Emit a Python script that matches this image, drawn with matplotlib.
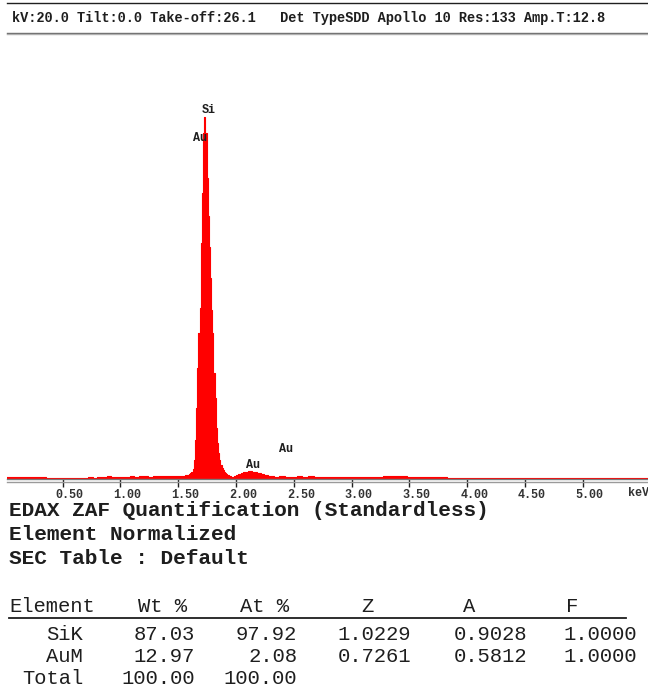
from matplotlib import pyplot as plt
from matplotlib.lines import Line2D
from matplotlib.transforms import ScaledTranslation

# ---------------- spectrum (counts per channel, arbitrary units) ----------------
energy_low = [0.02, 0.06, 0.10, 0.14, 0.18, 0.22, 0.26, 0.30, 0.34, 0.38,
              0.42, 0.46, 0.50, 0.54, 0.58, 0.62, 0.66, 0.70, 0.74, 0.78,
              0.82, 0.86, 0.90, 0.94, 0.98, 1.02, 1.06, 1.10, 1.14, 1.18,
              1.22, 1.26, 1.30, 1.34, 1.38, 1.42, 1.46, 1.50, 1.54, 1.58]
counts_low = [2, 2, 2, 2, 2, 2, 2, 2.5, 2, 1.5,
              1.5, 1.5, 1.5, 1.5, 1.5, 1.5, 1.5, 1.5, 2, 1.5,
              2, 2.5, 3, 2, 2.5, 2.5, 2.5, 3, 2.5, 3,
              3, 2.5, 3, 3.5, 3, 3, 3.5, 3, 3.5, 4]

energy_si = [1.60, 1.61, 1.62, 1.63, 1.64, 1.65, 1.66, 1.67, 1.68, 1.69,
             1.70, 1.71, 1.72, 1.73, 1.74, 1.75, 1.76, 1.77, 1.78, 1.79,
             1.80, 1.81, 1.82, 1.83, 1.84, 1.85, 1.86, 1.87, 1.88, 1.89,
             1.90, 1.91, 1.92, 1.93, 1.95, 1.97, 1.99]
counts_si = [5, 6, 7, 10, 19, 39, 71, 111, 146, 171,
             236, 286, 346, 362, 346, 301, 263, 232, 201, 169,
             146, 106, 81, 51, 36, 26, 19, 14, 11, 9,
             7, 6, 5, 4, 3, 2.5, 3]

energy_au = [2.01, 2.03, 2.05, 2.07, 2.09, 2.11, 2.13, 2.15, 2.17, 2.19,
             2.21, 2.23, 2.25, 2.27, 2.29, 2.31]
counts_au = [4, 5, 6, 7, 7.5, 8, 8, 7.5, 7, 6.5,
             6, 5, 4.5, 4, 3.5, 3]

energy_high = [2.35, 2.40, 2.45, 2.50, 2.55, 2.60, 2.65, 2.70, 2.75, 2.80,
               2.85, 2.90, 2.95, 3.00, 3.05, 3.10, 3.15, 3.20, 3.25, 3.30,
               3.35, 3.40, 3.45, 3.50, 3.55, 3.60, 3.65, 3.70, 3.75, 3.80,
               3.85, 3.90, 3.95, 4.00, 4.10, 4.20, 4.30, 4.40, 4.50, 4.60,
               4.70, 4.80, 4.90, 5.00, 5.10, 5.20, 5.30, 5.40, 5.50, 5.56]
counts_high = [2.5, 3, 2.5, 2.5, 3, 2.5, 3, 2.5, 2.5, 2.5,
               2.5, 2.5, 2, 2, 2, 2, 2, 2, 2.5, 3,
               3, 3, 3, 2.5, 2.5, 2, 2, 2, 2, 2,
               1.5, 1.5, 1.5, 1.5, 1.5, 1.5, 1.5, 1.5, 1.5, 1.5,
               1.5, 1.5, 1.5, 1.5, 1.5, 1.5, 1.5, 1.5, 1.5, 1.5]

energy = energy_low + energy_si + energy_au + energy_high
counts = counts_low + counts_si + counts_au + counts_high

# line markers: label, energy (keV), label height
peak_names = ['Si', 'Au', 'Au', 'Au']
peak_energy = [1.74, 1.66, 2.12, 2.41]
peak_height = [369, 341, 14, 30]

ticks = [0.50, 1.00, 1.50, 2.00, 2.50, 3.00, 3.50, 4.00, 4.50, 5.00]

header = 'kV:20.0 Tilt:0.0 Take-off:26.1   Det TypeSDD Apollo 10 Res:133 Amp.T:12.8'
title_lines = ['EDAX ZAF Quantification (Standardless)',
               'Element Normalized',
               'SEC Table : Default']

# ---------------- quantification table ----------------
columns = ['Element', 'Wt %', 'At %', 'Z', 'A', 'F']
elements = ['SiK', 'AuM', 'Total']
wt = ['87.03', '12.97', '100.00']
at = ['97.92', '2.08', '100.00']
z_fac = ['1.0229', '0.7261', '']
a_fac = ['0.9028', '0.5812', '']
f_fac = ['1.0000', '1.0000', '']

W, H = 648, 686
MONO = 'Liberation Mono'
INK = '#1e1e1e'

fig = plt.figure(figsize=(W / 100, H / 100), dpi=100)

def fx(px):
    return px / W

def fy(py):
    return 1 - py / H

def hline(y, x0, x1, color, lw=1.0):
    fig.add_artist(Line2D([fx(x0), fx(x1)], [fy(y), fy(y)], color=color, lw=lw,
                          transform=fig.transFigure))

# header
hline(3.3, 7, W, '#202020', 1.0)
fig.text(fx(12), fy(18), header, family=MONO, weight='bold', fontsize=9.8,
         color=INK, va='center', ha='left')
hline(32.5, 7, W, '#666666', 1.0)
hline(34.2, 7, W, '#b0b0b0', 1.0)

# spectrum axes
ax = fig.add_axes([fx(7), fy(479), fx(W - 7), (479 - 40) / H])
ax.fill_between(energy, counts, step='mid', color='#ff0000', lw=0)
ax.step(energy, counts, where='mid', color='#ff0000', lw=0.8)
ax.set_xlim(0.019, 5.564)
ax.set_ylim(0, 439)

for name, e, h in zip(peak_names, peak_energy, peak_height):
    t = ax.text(e, h, name, family=MONO, weight='bold', fontsize=8.5,
                color=INK, ha='center', va='center')
    t.set_transform(ax.transData + ScaledTranslation(0.03, 0, fig.dpi_scale_trans))

for s in ['top', 'left', 'right']:
    ax.spines[s].set_visible(False)
ax.spines['bottom'].set_color('#777777')
ax.spines['bottom'].set_linewidth(1.0)
hline(481.6, 7, W, '#9a9a9a', 1.0)
ax.set_yticks([])
ax.set_xticks(ticks)
ax.set_xticklabels(['%.2f' % t for t in ticks])
ax.tick_params(axis='x', direction='out', length=6, width=1, color='#202020', pad=1.5)
for lab in ax.get_xticklabels():
    lab.set_family(MONO)
    lab.set_weight('bold')
    lab.set_fontsize(8.5)
    lab.set_color('#333333')
    lab.set_transform(lab.get_transform() + ScaledTranslation(0.07, 0, fig.dpi_scale_trans))
fig.text(fx(628), fy(493.5), 'keV', family=MONO, weight='bold', fontsize=8.5,
         color='#333333', ha='left', va='center')

# quantification header lines
for i, line in enumerate(title_lines):
    fig.text(fx(9), fy(510 + 24 * i), line, family=MONO, weight='bold',
             fontsize=15.2, color=INK, ha='left', va='center')

# table
head_x = [9, 163, 265, 367, 469, 572]
head_ha = ['left', 'center', 'center', 'center', 'center', 'center']
for label, x, ha in zip(columns, head_x, head_ha):
    fig.text(fx(x), fy(606), label, family=MONO, fontsize=14.8, color=INK,
             ha=ha, va='center')
hline(618, 9, 626, '#1e1e1e', 1.3)

right_x = [83, 195, 297, 411, 527, 637]
for r, row in enumerate(zip(elements, wt, at, z_fac, a_fac, f_fac)):
    for cell, x in zip(row, right_x):
        fig.text(fx(x), fy(635 + 21.5 * r), cell, family=MONO, fontsize=14.8,
                 color=INK, ha='right', va='center')

fig.savefig('out.png', dpi=100)
